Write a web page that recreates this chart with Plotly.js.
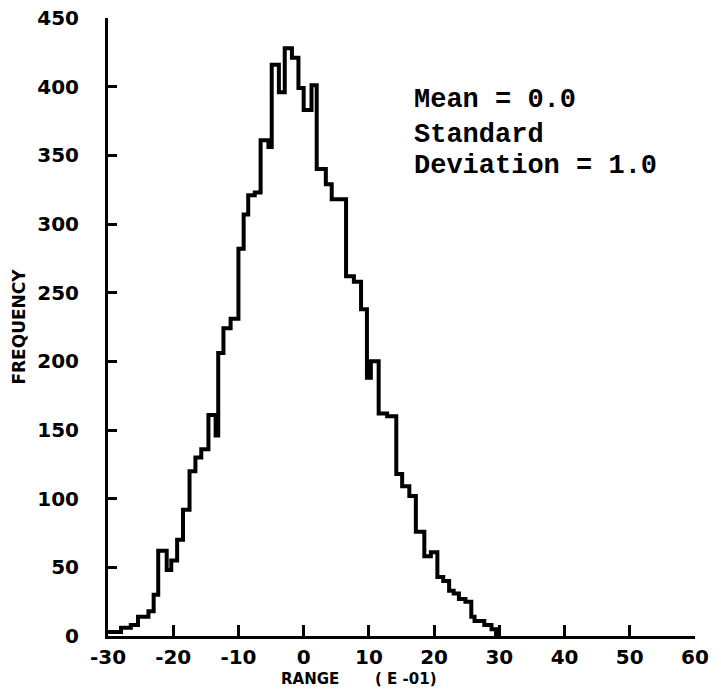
<!DOCTYPE html>
<html>
<head>
<meta charset="utf-8">
<script src="https://cdn.plot.ly/plotly-3.0.1.min.js"></script>
<style>html,body{margin:0;padding:0;background:#fff;}#chart{width:721px;height:692px;}</style>
</head>
<body>
<div id="chart"></div>
<script>
// Left edges of histogram steps (range, units of E-01) and their frequencies
var binLeft = [-30, -28, -26.5, -25.4, -23.8, -23, -22.3, -21, -20.3, -19.4, -18.5, -17.5, -16.6, -15.7, -14.6, -13.5, -13.1, -12.3, -11.2, -10, -9.2, -8.5, -7.5, -6.6, -5.4, -4.9, -3.8, -2.9, -1.8, -0.8, 0, 1.2, 2, 3.4, 4.3, 6.5, 7.7, 8.8, 9.7, 10.3, 11.5, 12.8, 14.2, 15.1, 16.2, 17.2, 18.5, 19.5, 20.5, 21.4, 22.3, 23, 23.8, 24.8, 25.7, 26.2, 27.7, 28.8];
var frequency = [3, 6, 8, 14, 18, 30, 62, 48, 55, 70, 92, 120, 130, 136, 161, 146, 206, 224, 231, 282, 307, 321, 323, 361, 356, 416, 396, 428, 421, 399, 383, 401, 340, 329, 318, 262, 258, 238, 188, 200, 162, 160, 118, 109, 102, 76, 58, 61, 43, 40, 33, 31, 27, 25, 14, 11, 8, 5];
var lastEdge = 29.5;

var xTickVals = [-30, -20, -10, 0, 10, 20, 30, 40, 50, 60];
var xTickText = ["-30", "-20", "-10", "0", "10", "20", "30", "40", "50", "60"];
var yTickVals = [0, 50, 100, 150, 200, 250, 300, 350, 400, 450];
var yTickText = ["0", "50", "100", "150", "200", "250", "300", "350", "400", "450"];

var statLines = ["Mean = 0.0", "Standard", "Deviation = 1.0"];
var statY = [390, 365, 342];

var xs = binLeft.concat([lastEdge]);
var ys = frequency.concat([0]);

var tickFont = {family: "DejaVu Sans", size: 20, color: "#000", weight: "bold"};
var monoFont = {family: "Liberation Mono", size: 27, color: "#000", weight: "bold"};
var labelFont = {family: "DejaVu Sans", size: 15, color: "#000", weight: "bold"};

var trace = {
  x: xs, y: ys, type: "scatter", mode: "lines",
  line: {shape: "hv", color: "#000", width: 4},
  hoverinfo: "skip", cliponaxis: false
};

var annotations = statLines.map(function (t, i) {
  return {text: t, xref: "x", yref: "y", x: 16.6, y: statY[i], xanchor: "left", yanchor: "middle",
          showarrow: false, align: "left", font: monoFont};
});
annotations.push({text: "RANGE", xref: "paper", yref: "paper", x: 0.344, y: 0, xanchor: "center", yanchor: "top",
                  yshift: -32, showarrow: false, font: labelFont});
annotations.push({text: "( E -01)", xref: "paper", yref: "paper", x: 0.508, y: 0, xanchor: "center", yanchor: "top",
                  yshift: -32, showarrow: false, font: labelFont});

var layout = {
  width: 721, height: 692,
  margin: {l: 108, r: 26, t: 18, b: 56},
  paper_bgcolor: "#fff", plot_bgcolor: "#fff",
  showlegend: false,
  xaxis: {
    range: [-30, 60], tickmode: "array", tickvals: xTickVals, ticktext: xTickText,
    ticks: "inside", ticklen: 11, tickwidth: 3, tickcolor: "#000",
    showline: true, linewidth: 3, linecolor: "#000",
    showgrid: false, zeroline: false, tickfont: tickFont, ticklabelstandoff: 1
  },
  yaxis: {
    range: [0, 450], tickmode: "array", tickvals: yTickVals, ticktext: yTickText,
    ticks: "inside", ticklen: 9, tickwidth: 3, tickcolor: "#000",
    showline: true, linewidth: 3, linecolor: "#000",
    showgrid: false, zeroline: false, tickfont: tickFont, ticklabelstandoff: 22,
    title: {text: "FREQUENCY", font: {family: "DejaVu Sans", size: 17, color: "#000", weight: "bold"}, standoff: 8}
  },
  annotations: annotations
};

Plotly.newPlot("chart", [trace], layout, {displayModeBar: false, staticPlot: true});
</script>
</body>
</html>
